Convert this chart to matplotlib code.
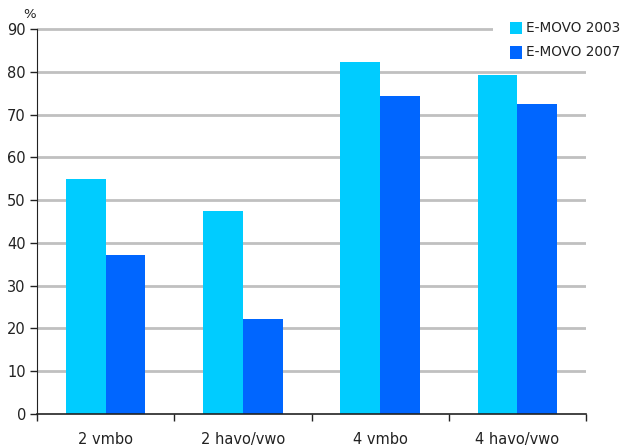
import numpy as np
import matplotlib.pyplot as plt
from matplotlib.patches import Rectangle

groups = ["2 vmbo", "2 havo/vwo", "4 vmbo", "4 havo/vwo"]
emovo_2003 = [55.0, 47.5, 82.3, 79.2]
emovo_2007 = [37.2, 22.2, 74.3, 72.5]
series_names = ["E-MOVO 2003", "E-MOVO 2007"]
yticks = [0, 10, 20, 30, 40, 50, 60, 70, 80, 90]

col_2003 = "#00ccff"
col_2007 = "#0066ff"
txt = "#222222"

W, H = 621, 448
fig = plt.figure(figsize=(W / 100, H / 100), dpi=100)
# axes box in pixels: x 37..586, y-zero at 414, top at 91 units
ppu = (414 - 29) / 90.0
top_px = 414 - 91 * ppu
ax = fig.add_axes([37 / W, 1 - 414 / H, (586 - 37) / W, (414 - top_px) / H])

x = np.arange(len(groups))
bw = 0.29
ax.bar(x - bw / 2, emovo_2003, bw, color=col_2003, zorder=3)
ax.bar(x + bw / 2, emovo_2007, bw, color=col_2007, zorder=3)

ax.set_xlim(-0.5, len(groups) - 0.5)
ax.set_ylim(0, 91)

ax.set_yticks(yticks)
ax.set_yticklabels([str(t) for t in yticks], fontsize=10.5, color=txt)
for t in yticks[1:]:
    ax.axhline(t, color="#c0c0c0", lw=2, zorder=1)

ax.set_xticks(np.arange(-0.5, len(groups)))
ax.set_xticklabels([])
ax.set_xticks(x, minor=True)
ax.set_xticklabels(groups, minor=True, fontsize=10.5, color=txt)
ax.tick_params(axis="x", which="major", length=5, width=1, color="#222222")
ax.tick_params(axis="x", which="minor", length=0, pad=13)
ax.tick_params(axis="y", length=5, width=1, color="#222222", pad=3)

for s in ["top", "right"]:
    ax.spines[s].set_visible(False)
ax.spines["left"].set_bounds(0, 90)
ax.spines["left"].set_color("#222222")
ax.spines["bottom"].set_color("#222222")
ax.spines["bottom"].set_linewidth(1.2)
ax.spines["left"].set_zorder(4)
ax.spines["bottom"].set_zorder(4)

fig.text(30 / W, 1 - 14 / H, "%", fontsize=9.5, color=txt, ha="center", va="center")

# legend block, white backing over the top gridline
fig.add_artist(Rectangle((493 / W, 1 - 66 / H), (W - 493) / W, 66 / H,
                         transform=fig.transFigure, facecolor="white",
                         edgecolor="none", zorder=5))
for i, (name, col) in enumerate(zip(series_names, [col_2003, col_2007])):
    yc = 28 + 24.5 * i
    fig.add_artist(Rectangle((510 / W, 1 - (yc + 6) / H), 12 / W, 12 / H,
                             transform=fig.transFigure, facecolor=col,
                             edgecolor="none", zorder=6))
    fig.text(526 / W, 1 - yc / H, name, fontsize=9.8, color=txt,
             ha="left", va="center", zorder=7)

fig.savefig("out.png", dpi=100)
